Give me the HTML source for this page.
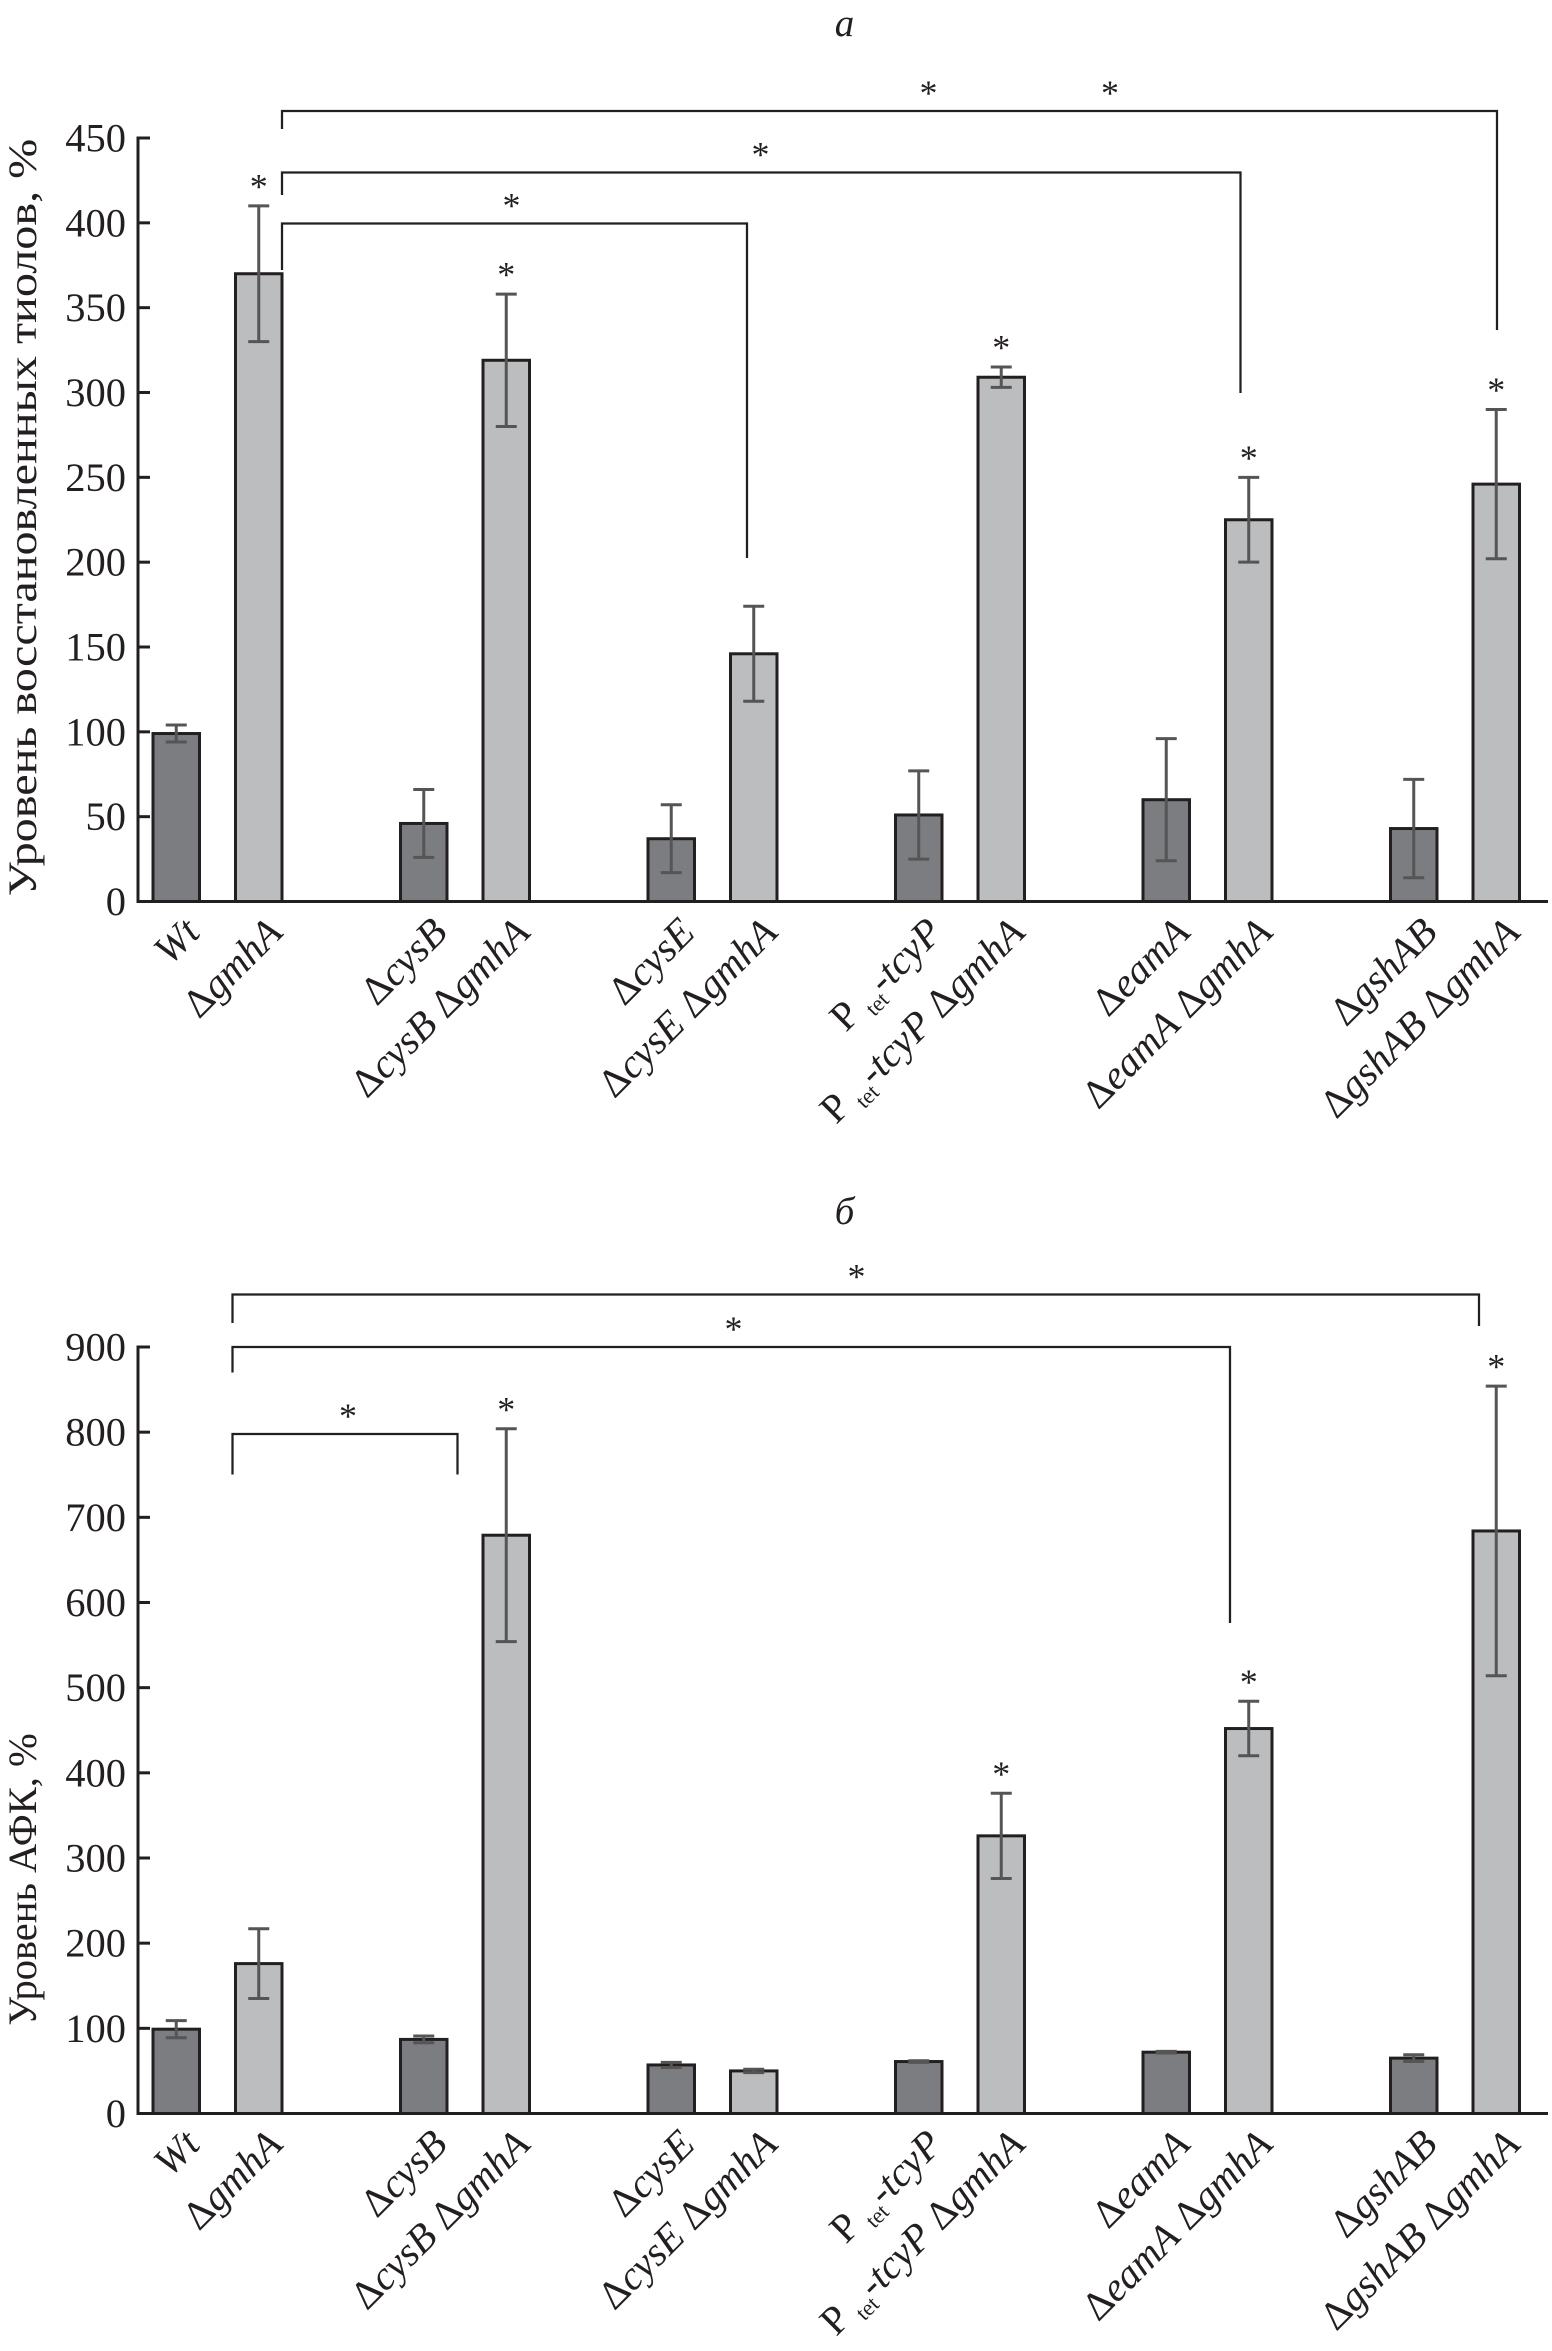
<!DOCTYPE html>
<html><head><meta charset="utf-8"><style>
html,body{margin:0;padding:0;background:#fff}
svg{display:block}
text{font-family:"Liberation Serif",serif;fill:#231f20}
</style></head><body>
<svg id="fig" width="1552" height="2351" viewBox="0 0 1034.67 1567.33" xmlns="http://www.w3.org/2000/svg"></svg>
<script>
const categories = ["Wt","ΔgmhA","ΔcysB","ΔcysB ΔgmhA","ΔcysE","ΔcysE ΔgmhA","Ptet-tcyP","Ptet-tcyP ΔgmhA","ΔeamA","ΔeamA ΔgmhA","ΔgshAB","ΔgshAB ΔgmhA"];
const thiolValues = [99,370,46,319,37,146,51,309,60,225,43,246];
const thiolErrors = [5,40,20,39,20,28,26,6,36,25,29,44];
const thiolTicks = [0,50,100,150,200,250,300,350,400,450];
const thiolStars = [false,true,false,true,false,false,false,true,false,true,false,true];
const rosValues = [99,176,87,679,57,50,61,326,72,452,65,684];
const rosErrors = [10,41,4,125,3,2,1,50,1,32,4,170];
const rosTicks = [0,100,200,300,400,500,600,700,800,900];
const rosStars = [false,false,false,true,false,false,false,true,false,true,false,true];

const NS="http://www.w3.org/2000/svg";
const svg=document.getElementById('fig');
function mk(tag,attrs,parent){const e=document.createElementNS(NS,tag);for(const k in attrs)e.setAttribute(k,attrs[k]);(parent||svg).appendChild(e);return e;}
function barX(i){return 102+Math.floor(i/2)*165+(i%2)*55;}
const BW=31;

function labelContent(t,name){
  t.setAttribute('font-size','27');
  const parts=[];
  if(name.startsWith('Ptet')){
    parts.push(['P ','normal',0,null]);parts.push(['tet','normal',6,'15']);parts.push(['-tcyP','italic',-6,null]);
    const rest=name.slice(9);
    if(rest){parts.push([' Δ','normal',0,null]);parts.push([rest.replace(' Δ',''),'italic',0,null]);}
  } else if(name==='Wt'){parts.push(['Wt','italic',0,null]);}
  else{
    name.split(' ').forEach((w,k)=>{parts.push([(k?' ':'')+'Δ','normal',0,null]);parts.push([w.slice(1),'italic',0,null]);});
  }
  parts.forEach(p=>{const s=mk('tspan',{'font-style':p[1]},t);if(p[2])s.setAttribute('dy',p[2]);if(p[3])s.setAttribute('font-size',p[3]);s.textContent=p[0];});
}

function chart(cfg){
  const g=mk('g',{});
  
  
  const y=v=>cfg.y0-(v/cfg.max)*(cfg.y0-cfg.yTop);
  const ya=mk('line',{x1:92,y1:cfg.yTop-1,x2:92,y2:cfg.y0,stroke:'#231f20','stroke-width':2},g);
  
  const xa=mk('line',{x1:91,y1:cfg.y0,x2:1032,y2:cfg.y0,stroke:'#231f20','stroke-width':2},g);
  
  cfg.ticks.forEach(v=>{
    mk('line',{x1:92,y1:y(v),x2:100,y2:y(v),stroke:'#231f20','stroke-width':2},g);
    const t=mk('text',{x:84,y:y(v)+9,'text-anchor':'end','font-size':27},g);
    
    t.textContent=v;
  });
  const ya2={x:0,y:0,'text-anchor':'middle','font-size':cfg.titleSize,transform:`translate(24 ${cfg.titleY}) rotate(-90)`};
  if(cfg.titleLen){ya2.textLength=cfg.titleLen;ya2.lengthAdjust='spacingAndGlyphs';}
  const yt=mk('text',ya2,g);
  
  yt.textContent=cfg.title;
  const tt=mk('text',{x:563,y:cfg.letterY,'text-anchor':'middle','font-size':26,'font-style':'italic'},g);
  
  tt.textContent=cfg.letter;
  cfg.values.forEach((v,i)=>{
    const x=barX(i);
    const r=mk('rect',{x:x,y:y(v),width:BW,height:cfg.y0-y(v),fill:i%2?'#bcbdbf':'#7c7d80',stroke:'#231f20','stroke-width':2},g);
    
    
    const e=cfg.errors[i],cx=x+BW/2;
    const eb=mk('path',{d:`M${cx} ${y(v+e)}V${y(v-e)}M${cx-7} ${y(v+e)}H${cx+7}M${cx-7} ${y(v-e)}H${cx+7}`,stroke:'#555','stroke-width':2,fill:'none'},g);
    
    if(cfg.stars[i]){
      const s=mk('text',{x:cx,y:y(v+e)-5,'text-anchor':'middle','font-size':24},g);
      
      s.textContent='*';
    }
    const lt=mk('text',{'text-anchor':'end',transform:`translate(${cx+17} ${cfg.y0+22}) rotate(-45)`},g);
    
    labelContent(lt,categories[i]);
  });
  cfg.brackets.forEach(b=>{
    const p=mk('path',{d:`M${b[0]} ${b[3]}V${b[2]}H${b[1]}V${b[4]}`,stroke:'#231f20','stroke-width':1.5,fill:'none'},g);
    
    b[5].forEach(sx=>{const s=mk('text',{x:sx,y:b[2]-4,'text-anchor':'middle','font-size':24},g);
      s.textContent='*';});
  });
}
chart({name:'chart-thiols',y0:601,yTop:92,max:450,ticks:thiolTicks,values:thiolValues,errors:thiolErrors,stars:thiolStars,
  title:'Уровень восстановленных тиолов, %',titleSize:27,titleY:345,titleLen:505,letter:'а',letterY:24,
  brackets:[[188,998,74,86,220,[619,740]],[188,827,115,130,262,[507]],[188,498,149,180,372,[341]]]});
chart({name:'chart-ros',y0:1409,yTop:898,max:900,ticks:rosTicks,values:rosValues,errors:rosErrors,stars:rosStars,
  title:'Уровень АФК, %',titleSize:27,titleY:1253,titleLen:0,letter:'б',letterY:816,
  brackets:[[155,986,863,882,884,[571]],[155,820,898,915,1082,[489]],[155,305,956,983,983,[232]]]});
</script>
</body></html>
